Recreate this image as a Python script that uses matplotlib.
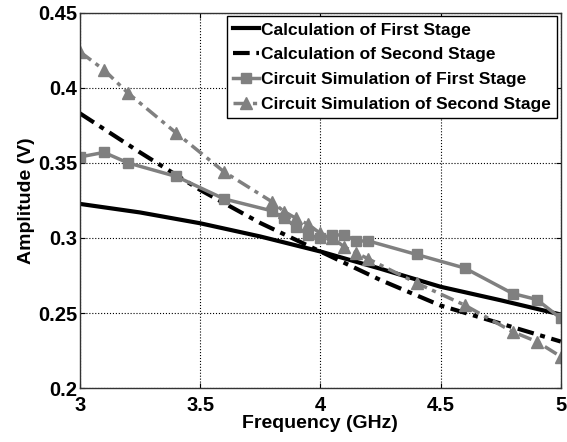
import numpy as np
import matplotlib
matplotlib.use('Agg')
import matplotlib.pyplot as plt

plt.rcParams['font.family'] = ['Liberation Sans', 'DejaVu Sans']
plt.rcParams['font.weight'] = 'bold'

# calculated curves
calc_f = [3.0, 3.25, 3.5, 3.75, 4.0, 4.25, 4.5, 4.75, 5.0]
calc_first = [0.3227, 0.317, 0.3098, 0.301, 0.291, 0.2795, 0.2675, 0.2585, 0.249]
calc_second = [0.383, 0.357, 0.332, 0.310, 0.291, 0.272, 0.255, 0.243, 0.231]

# circuit simulation
sim_f1 = [3.0, 3.1, 3.2, 3.4, 3.6, 3.8, 3.85, 3.9, 3.95, 4.0, 4.05, 4.1, 4.15, 4.2, 4.4, 4.6, 4.8, 4.9, 5.0]
sim_first = [0.354, 0.357, 0.350, 0.341, 0.326, 0.318, 0.313, 0.3075, 0.302, 0.300, 0.302, 0.302, 0.298, 0.298, 0.289, 0.280, 0.263, 0.259, 0.2465]
sim_f2 = [3.0, 3.1, 3.2, 3.4, 3.6, 3.8, 3.85, 3.9, 3.95, 4.0, 4.05, 4.1, 4.15, 4.2, 4.4, 4.6, 4.8, 4.9, 5.0]
sim_second = [0.424, 0.412, 0.3965, 0.370, 0.344, 0.324, 0.3175, 0.313, 0.309, 0.303, 0.300, 0.294, 0.290, 0.286, 0.270, 0.2553, 0.2375, 0.231, 0.221]

labels = ['Calculation of First Stage', 'Calculation of Second Stage',
          'Circuit Simulation of First Stage', 'Circuit Simulation of Second Stage']

gray = '#808080'
dashdot = (0, (4, 1.6, 1.2, 1.6))
fig = plt.figure(figsize=(5.67, 4.42), dpi=100)
ax = fig.add_axes([0.141, 0.122, 0.848, 0.849])

ax.plot(calc_f, calc_first, color='black', lw=3, label=labels[0])
ax.plot(calc_f, calc_second, color='black', lw=3, ls=dashdot, label=labels[1])
ax.plot(sim_f1, sim_first, color=gray, lw=2.5, marker='s', ms=7, label=labels[2])
ax.plot(sim_f2, sim_second, color=gray, lw=2.5, ls=dashdot, marker='^', ms=9, label=labels[3])

ax.set_xlim(3, 5)
ax.set_ylim(0.2, 0.45)
ax.set_xticks([3, 3.5, 4, 4.5, 5])
ax.set_xticklabels(['3', '3.5', '4', '4.5', '5'])
ax.set_yticks([0.2, 0.25, 0.3, 0.35, 0.4, 0.45])
ax.set_yticklabels(['0.2', '0.25', '0.3', '0.35', '0.4', '0.45'])
ax.grid(True, color='black', ls=':', lw=0.8)
ax.tick_params(direction='in', top=True, right=True, labelsize=14.5)
ax.tick_params(axis='x', pad=6)
ax.tick_params(axis='y', pad=2)
for s in ax.spines.values():
    s.set_linewidth(1.0)
    s.set_color('#333333')

ax.set_xlabel('Frequency (GHz)', fontsize=14, fontweight='bold', labelpad=0)
ax.set_ylabel('Amplitude (V)', fontsize=14, fontweight='bold', labelpad=2)

leg = ax.legend(loc='upper right', fontsize=12.5, handlelength=1.5, handletextpad=0.12,
                labelspacing=0.55, borderpad=0.35, borderaxespad=0.2, fancybox=False,
                framealpha=1, edgecolor='black')
leg.get_frame().set_linewidth(1.0)
for t in leg.get_texts():
    t.set_fontweight('bold')

fig.savefig('out.png', dpi=100)
